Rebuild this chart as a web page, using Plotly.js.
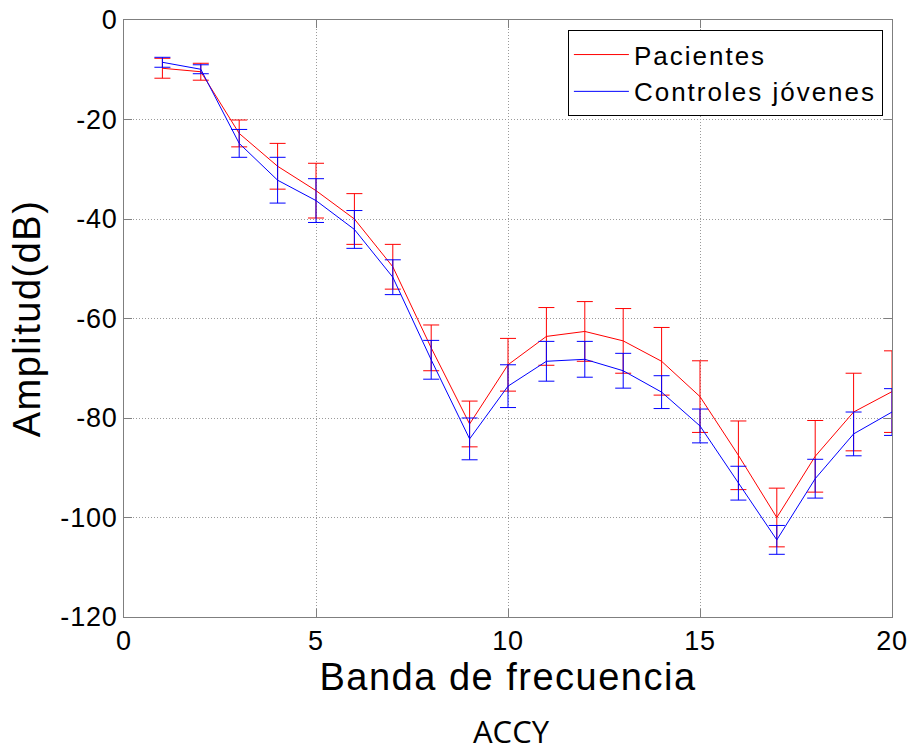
<!DOCTYPE html>
<html>
<head>
<meta charset="utf-8">
<script src="https://cdn.plot.ly/plotly-3.0.1.min.js"></script>
<style>
  html, body { margin: 0; padding: 0; background: #fff; }
  #chart { width: 913px; height: 753px; }
  .xtitle, .ytitle { letter-spacing: 1.5px; }
  .legendtext { letter-spacing: 2px; }
  .xtick text, .ytick text { letter-spacing: 0.8px; }
</style>
</head>
<body>
<div id="chart"></div>
<script>
// Frequency bands
const bands = [1, 2, 3, 4, 5, 6, 7, 8, 9, 10, 11, 12, 13, 14, 15, 16, 17, 18, 19, 20];

// Pacientes (red)
const pacientesMean = [-9.7, -10.4, -22.8, -29.4, -34.3, -40.0, -49.6, -65.9, -81.2, -69.3,
                       -63.6, -62.6, -64.5, -68.6, -75.7, -87.5, -100.0, -87.7, -78.8, -74.7];
const pacientesErr  = [2.0, 1.7, 2.7, 4.6, 5.5, 5.1, 4.5, 4.6, 4.6, 5.3,
                       5.8, 6.0, 6.5, 6.8, 7.2, 6.9, 5.9, 7.2, 7.8, 8.2];

// Controles jóvenes (blue)
const controlesMean = [-8.5, -9.9, -24.8, -32.2, -36.3, -42.1, -51.7, -68.3, -84.2, -73.6,
                       -68.6, -68.2, -70.5, -74.8, -81.6, -93.1, -104.5, -92.2, -83.2, -78.8];
const controlesErr  = [1.0, 0.9, 2.8, 4.6, 4.4, 3.8, 3.5, 3.9, 4.2, 4.3,
                       4.0, 3.6, 3.5, 3.3, 3.4, 3.4, 2.9, 3.9, 4.4, 4.7];

const xTickVals = [0, 5, 10, 15, 20];
const yTickVals = [0, -20, -40, -60, -80, -100, -120];

const FONT = 'Liberation Sans, Arial, Helvetica, sans-serif';

const traces = [
  {
    x: bands, y: pacientesMean, name: 'Pacientes', type: 'scatter', mode: 'lines',
    line: { color: '#ff0000', width: 1 },
    error_y: { type: 'data', array: pacientesErr, visible: true, color: '#ff0000', thickness: 1, width: 8 }
  },
  {
    x: bands, y: controlesMean, name: 'Controles jóvenes', type: 'scatter', mode: 'lines',
    line: { color: '#0000ff', width: 1 },
    error_y: { type: 'data', array: controlesErr, visible: true, color: '#0000ff', thickness: 1, width: 8 }
  }
];

const axisCommon = {
  showline: true, linecolor: '#7f7f7f', linewidth: 1, mirror: 'ticks',
  ticks: 'inside', ticklen: 8, tickcolor: '#7f7f7f', tickwidth: 1,
  showgrid: true, gridcolor: '#9a9a9a', gridwidth: 1, griddash: '1px,2px',
  zeroline: false, tickfont: { family: FONT, size: 27, color: '#000' }
};

const layout = {
  width: 913, height: 753,
  paper_bgcolor: '#ffffff', plot_bgcolor: '#ffffff',
  margin: { l: 124, r: 21, t: 20, b: 136, autoexpand: false },
  showlegend: true,
  font: { family: FONT, color: '#000' },
  xaxis: Object.assign({}, axisCommon, {
    range: [0, 20], tickvals: xTickVals, ticktext: xTickVals.map(String),
    title: { text: 'Banda de frecuencia', font: { family: FONT, size: 38, color: '#000' }, standoff: 6 },
    automargin: false
  }),
  yaxis: Object.assign({}, axisCommon, {
    range: [-120, 0], tickvals: yTickVals, ticktext: yTickVals.map(String),
    title: { text: 'Amplitud(dB)', font: { family: FONT, size: 38, color: '#000' }, standoff: 8 },
    automargin: false
  }),
  legend: {
    x: 0.578, y: 0.983, xanchor: 'left', yanchor: 'top',
    bgcolor: '#ffffff', bordercolor: '#000000', borderwidth: 1,
    font: { family: FONT, size: 26, color: '#000' },
    itemwidth: 55, tracegroupgap: 0
  },
  annotations: [{
    text: 'ACCY', xref: 'paper', yref: 'paper', x: 0.5046, y: -0.2275,
    xanchor: 'center', yanchor: 'bottom', showarrow: false, borderpad: 0,
    font: { family: 'Open Sans, Noto Sans, sans-serif', size: 31, color: '#000' }
  }]
};

Plotly.newPlot('chart', traces, layout, { displayModeBar: false, staticPlot: true });
</script>
</body>
</html>
